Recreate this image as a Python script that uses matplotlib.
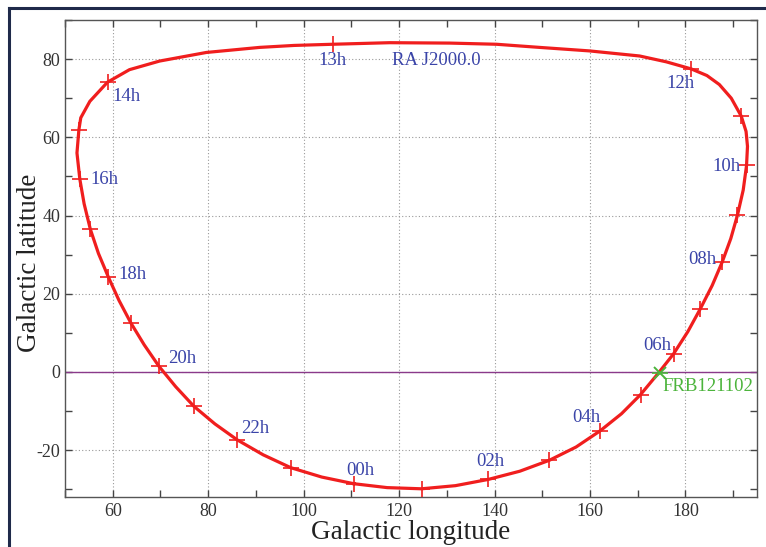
import matplotlib
matplotlib.use("Agg")
import matplotlib.pyplot as plt
from matplotlib.lines import Line2D
from matplotlib.ticker import MultipleLocator

# RA hour markers along the Dec = +33 deg circle, in galactic coordinates
hours = list(range(24))
marker_l = [110.5, 124.7, 138.7, 151.5, 162.1, 170.6, 177.5, 183.1, 187.7, 190.9,
            192.8, 191.7, 181.2, 106.1, 58.9, 52.9, 53.1, 55.3, 59.1, 63.8,
            69.7, 77.0, 86.1, 97.3]
marker_b = [-28.6, -29.9, -27.5, -22.6, -15.1, -5.8, 4.6, 16.1, 28.1, 40.1,
            52.8, 65.4, 77.5, 83.8, 74.1, 61.9, 49.3, 36.5, 24.2, 12.5,
            1.4, -8.8, -17.4, -24.5]

# points (closed loop)
curve_l = [110.5, 117.5, 124.7, 131.8, 138.7, 145.3, 151.5, 157.1, 162.1, 166.6,
           170.6, 174.2, 177.5, 180.5, 183.1, 185.6, 187.7, 189.5, 190.9, 192.1,
           192.8, 193.0, 192.7, 191.7, 189.6, 187.1, 184.5, 181.2, 176.0, 170.4,
           159.9, 149.4, 140.4, 130.6, 118.0, 106.1, 98.0, 90.8, 79.6, 69.8,
           63.5, 58.9, 55.2, 53.3, 52.9, 52.5, 53.1, 54.0, 55.3, 57.0,
           59.1, 61.3, 63.8, 66.6, 69.7, 73.2, 77.0, 81.4, 86.1, 91.5,
           97.3, 103.8, 110.5]
curve_b = [-28.6, -29.6, -29.9, -29.1, -27.5, -25.4, -22.6, -19.2, -15.1, -10.7,
           -5.8, -0.5, 4.6, 10.3, 16.1, 22.1, 28.1, 34.1, 40.1, 46.5,
           52.8, 57.7, 61.5, 65.4, 70.0, 73.5, 75.8, 77.5, 79.3, 80.8,
           82.1, 83.0, 83.8, 84.1, 84.2, 83.8, 83.5, 83.0, 81.7, 79.5,
           77.3, 74.1, 69.2, 65.0, 61.9, 56.0, 49.3, 43.0, 36.5, 30.3,
           24.2, 18.3, 12.5, 6.9, 1.4, -3.8, -8.8, -13.3, -17.4, -21.2,
           -24.5, -26.9, -28.6]

labelled_hours = [0, 2, 4, 6, 8, 10, 12, 13, 14, 16, 18, 20, 22]
frb_name = "FRB121102"
frb_l = 174.6
frb_b = -0.2

# label offsets in pixels (dx, dy) and alignment
label_layout = {
    0: (7, 13, "center"), 2: (2, 18, "center"), 4: (0, 13, "right"),
    6: (-2, 8, "right"), 8: (-6, 3, "right"), 10: (-6, -1, "right"),
    12: (-11, -15, "center"), 13: (0, -16, "center"), 14: (5, -14, "left"),
    16: (11, 0, "left"), 18: (10, 3, "left"), 20: (9, 8, "left"),
    22: (4, 11, "left"),
}

plt.rcParams["font.family"] = ["Liberation Serif", "DejaVu Serif"]
plt.rcParams["axes.unicode_minus"] = False

red = "#f01e1e"
blue = "#3a44a8"
green = "#4cb43c"

fig = plt.figure(figsize=(7.66, 5.47), dpi=100)
fig.patch.set_facecolor("white")
ax = fig.add_axes([0.0849, 0.0914, 0.9034, 0.872])

ax.axhline(0, color="#8a3a8a", lw=1.0, zorder=2)
ax.plot(curve_l, curve_b, color=red, lw=2.3, zorder=3)
ax.plot(marker_l, marker_b, ls="none", marker="+", ms=12, mew=1.2,
        color=red, zorder=4)
ax.plot([frb_l], [frb_b], ls="none", marker="x", ms=9, mew=1.4,
        color=green, zorder=5)
ax.plot([frb_l], [frb_b], ls="none", marker="_", ms=11, mew=1.2,
        color=green, zorder=5)

for h in labelled_hours:
    dx, dy, ha = label_layout[h]
    ax.annotate("%02dh" % h, (marker_l[h], marker_b[h]),
                xytext=(dx * 0.72, dy * 0.72), textcoords="offset points",
                ha=ha, va="center", color=blue, fontsize=13.5, zorder=6)

ax.annotate("RA J2000.0", (marker_l[13], marker_b[13]),
            xytext=(104 * 0.72, -16 * 0.72), textcoords="offset points",
            ha="center", va="center", color=blue, fontsize=13.5)
ax.annotate(frb_name, (frb_l, frb_b),
            xytext=(3 * 0.72, -14 * 0.72), textcoords="offset points",
            ha="left", va="center", color=green, fontsize=13.5)

ax.set_xlim(50, 195)
ax.set_ylim(-32, 90)
ax.xaxis.set_major_locator(MultipleLocator(20))
ax.xaxis.set_minor_locator(MultipleLocator(10))
ax.yaxis.set_major_locator(MultipleLocator(20))
ax.yaxis.set_minor_locator(MultipleLocator(10))
ax.tick_params(which="both", direction="in", top=True, right=True,
               length=5, width=1, color="#444444", labelsize=13,
               labelcolor="#333333")
ax.tick_params(axis="x", pad=4)
ax.grid(True, which="major", ls=(0, (1, 2)), color="#999999", lw=0.8)
for s in ax.spines.values():
    s.set_color("#555555")
    s.set_linewidth(1.0)

ax.set_xlabel("Galactic longitude", fontsize=19.5, color="#222222", labelpad=0)
ax.set_ylabel("Galactic latitude", fontsize=19.5, color="#222222")
ax.yaxis.set_label_coords(-0.033, 0.49)

# dark frame along the left and top of the image
frame = "#1f2a4a"
fig.add_artist(Line2D([9 / 766, 9 / 766], [0, 1 - 8 / 547], color=frame, lw=2.2))
fig.add_artist(Line2D([9 / 766, 1], [1 - 8 / 547, 1 - 8 / 547], color=frame, lw=2.2))

fig.savefig("out.png", dpi=100)
